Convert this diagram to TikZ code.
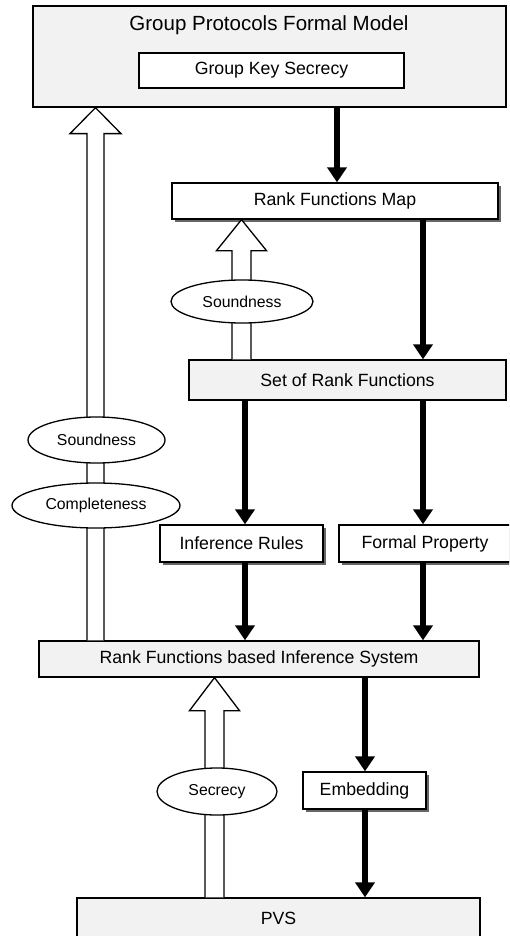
\documentclass[tikz,border=0pt]{standalone}
\usepackage{fontspec}
\setmainfont{Liberation Sans}
\usetikzlibrary{arrows.meta,shapes.geometric,shadows,calc}
\newcommand\myhollow[5]{%
  \draw[hollow] ($(#1)+(-#3,0)$) -- ($(#2)+(-#3,#5)$) -- ($(#2)+(-#4,#5)$) -- (#2)
    -- ($(#2)+(#4,#5)$) -- ($(#2)+(#3,#5)$) -- ($(#1)+(#3,0)$);}
\begin{document}
\begin{tikzpicture}[x=1pt,y=-1pt,
  box/.style={draw, line width=1.3pt, rectangle, inner sep=0pt, font=\fontsize{17.7}{20}\selectfont},
  graybox/.style={box, fill=black!5},
  whitebox/.style={box, fill=white},
  shadowbox/.style={whitebox, drop shadow={shadow xshift=3pt, shadow yshift=-3pt, fill=black!60, opacity=1}},
  oval/.style={ellipse, draw, line width=1.3pt, fill=white, inner sep=0pt, font=\fontsize{15.8}{18}\selectfont},
  blk/.style={line width=6.5pt, -{Triangle[width=19pt,length=15pt]}},
  hollow/.style={draw, line width=1.3pt, fill=white, line join=miter},
]
\useasboundingbox (0,0) rectangle (509,936);
\clip (0,0) rectangle (509,936);

% boxes
\node[graybox, minimum width=473, minimum height=101] (gpfm) at (269.5,56.5) {};
\node[font=\fontsize{20.5}{24}\selectfont] (title) at (269,25) {Group Protocols Formal Model};
\node[whitebox, line width=2pt, minimum width=265, minimum height=35] (gks) at (271.5,70.5) {Group Key Secrecy};
\node[shadowbox, minimum width=326, minimum height=36] (rfm) at (335,201) {Rank Functions Map};
\node[graybox, minimum width=317, minimum height=40] (sorf) at (347.5,380) {Set of Rank Functions};
\node[shadowbox, minimum width=163, minimum height=37] (ir) at (241.5,543.5) {Inference Rules};
\node[shadowbox, minimum width=172, minimum height=37] (fp) at (425,543.5) {Formal Property};
\node[graybox, minimum width=440, minimum height=36] (rfis) at (259,659) {Rank Functions based Inference System};
\node[shadowbox, minimum width=123, minimum height=37] (emb) at (364.5,790.5) {Embedding};
\node[graybox, minimum width=403, minimum height=40] (pvs) at (278.5,918) {PVS};

% x positions
\coordinate (xa) at (95.5,0);
\coordinate (xb) at (241.5,0);
\coordinate (xc) at (214.5,0);
\coordinate (x337) at (337,0);
\coordinate (x423) at (423,0);
\coordinate (x245) at (245,0);
\coordinate (x365) at (365,0);

% hollow arrows
\coordinate (h1b) at (rfis.north -| xa);
\coordinate (h1t) at (gpfm.south -| xa);
\myhollow{h1b}{h1t}{8.5}{25.5}{26}
\coordinate (h2b) at (sorf.north -| xb);
\coordinate (h2t) at (rfm.south -| xb);
\myhollow{h2b}{h2t}{9.5}{25}{31}
\coordinate (h3b) at (pvs.north -| xc);
\coordinate (h3t) at (rfis.south -| xc);
\myhollow{h3b}{h3t}{9.5}{25}{33}

% ellipses
\node[oval, minimum width=137, minimum height=46] (snd1) at (96.5,440) {Soundness};
\node[oval, minimum width=168, minimum height=45] (cmp) at (96,505.5) {Completeness};
\node[oval, minimum width=142, minimum height=43] (snd2) at (242,301.5) {Soundness};
\node[oval, minimum width=120, minimum height=47] (sec) at (217,791.5) {Secrecy};

% black arrows
\draw[blk] (gpfm.south -| x337) -- (rfm.north -| x337);
\draw[blk] (rfm.south -| x423) -- (sorf.north -| x423);
\draw[blk] (sorf.south -| x245) -- (ir.north -| x245);
\draw[blk] (sorf.south -| x423) -- (fp.north -| x423);
\draw[blk] (ir.south -| x245) -- (rfis.north -| x245);
\draw[blk] (fp.south -| x423) -- (rfis.north -| x423);
\draw[blk] (rfis.south -| x365) -- (emb.north -| x365);
\draw[blk] (emb.south -| x365) -- (pvs.north -| x365);
\end{tikzpicture}
\end{document}
